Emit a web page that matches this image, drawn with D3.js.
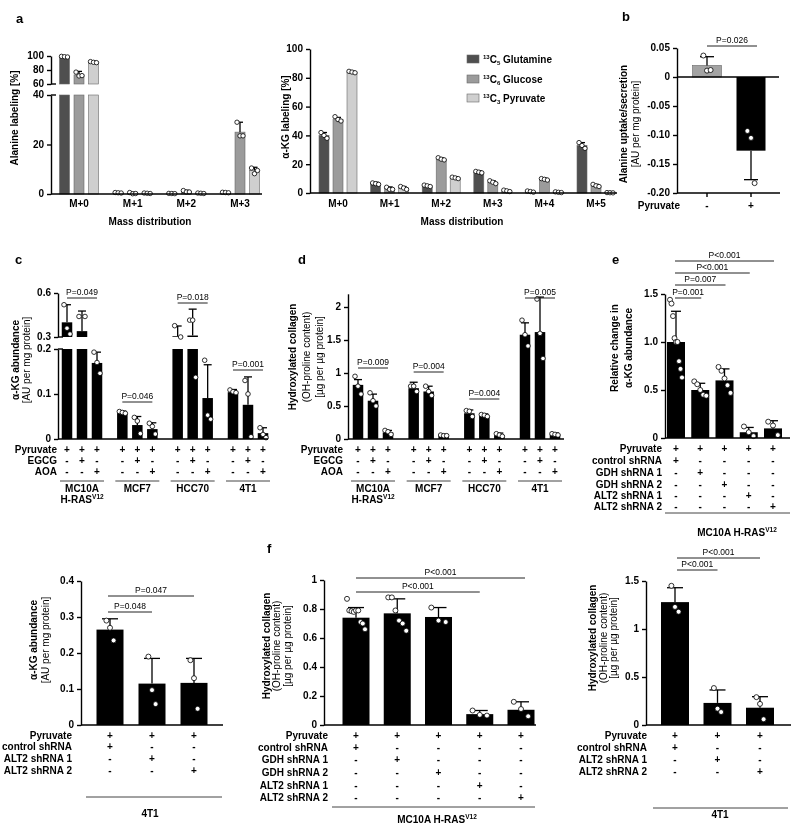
<!DOCTYPE html>
<html><head><meta charset="utf-8">
<script src="https://cdn.jsdelivr.net/npm/d3@7"></script>
<style>body{margin:0;background:#fff}svg{display:block;filter:grayscale(100%)}</style>
</head><body>
<svg id="chart" width="800" height="831"></svg>
<script>
// ================= DATA =================
// Panel a — alanine labeling (%)
const alaMass = ["M+0","M+1","M+2","M+3"];
const alaGln = [99, 0.5, 0.2, 0.6];
const alaGlc = [73, 0.3, 1.0, 25];
const alaPyr = [91, 0.3, 0.3, 9.5];
const alaGlnErr = [99.8, 0.7, 0.3, 0.8];
const alaGlcErr = [78, 0.7, 1.5, 29];
const alaPyrErr = [92.5, 0.5, 0.5, 10.8];
const alaGlnPts = [[99.5,99,98.6],[0.6,0.5,0.4],[0.25,0.2,0.15],[0.7,0.6,0.5]];
const alaGlcPts = [[77,71.5,72],[0.6,0.1,0.2],[1.4,0.8,0.8],[29,23.5,23.5]];
const alaPyrPts = [[92,91,90.5],[0.4,0.3,0.2],[0.4,0.3,0.2],[10.5,8.2,9.5]];
const alaTicksLow = [0,20,40];
const alaTicksHigh = [60,80,100];

// Panel a — alpha-KG labeling (%)
const kgMass = ["M+0","M+1","M+2","M+3","M+4","M+5"];
const kgGln = [40, 6.5, 5, 14.5, 1, 33];
const kgGlc = [51, 3, 23.5, 7.5, 9.5, 5];
const kgPyr = [84, 3.5, 10.5, 1.5, 0.5, 0.2];
const kgGlnErr = [42, 7.5, 5.8, 15.3, 1.4, 35];
const kgGlcErr = [52.5, 4.2, 24.3, 8.5, 10.3, 6];
const kgPyrErr = [84.6, 4.5, 11.3, 2, 0.8, 0.3];
const kgGlnPts = [[42,40,38],[7,6.5,6],[5.5,5,4.5],[15,14.5,14],[1.4,1,0.6],[35,33,31]];
const kgGlcPts = [[53,51,50],[4,2.5,2.5],[24.5,23.5,23],[8.5,7.5,6.5],[10,9.5,9],[6,5,4.5]];
const kgPyrPts = [[84.5,84,83.5],[4.5,3.5,2.5],[11,10.5,10],[2,1.5,1],[0.8,0.5,0.3],[0.3,0.2,0.1]];
const kgTicks = [0,20,40,60,80,100];
const tracerMassNo = ["13","13","13"];
const tracerCarbons = ["5","6","3"];
const tracerNames = ["Glutamine","Glucose","Pyruvate"];

// Panel b — alanine uptake/secretion
const bCats = ["-","+"];
const bMean = [0.02, -0.127];
const bErr = [0.035, -0.177];
const bPts = [[0.037,0.011,0.012],[-0.093,-0.105,-0.183]];
const bTicks = [0.05,0,-0.05,-0.10,-0.15,-0.20];
const bTickLabels = ["0.05","0","-0.05","-0.10","-0.15","-0.20"];
const bP = "P=0.026";

// Panel c — alpha-KG abundance
const cdGroups = ["MC10A","MCF7","HCC70","4T1"];
const cdGroupLines = [["MC10A","H-RAS^V12"],["MCF7"],["HCC70"],["4T1"]];
const cdRowNames = ["Pyruvate","EGCG","AOA"];
const cdRowSigns = [["+","+","+"],["-","+","-"],["-","-","+"]];
const cMean = [[0.40,0.34,0.169],[0.058,0.031,0.022],[0.305,0.31,0.091],[0.104,0.076,0.013]];
const cErr = [[0.52,0.477,0.193],[0.062,0.05,0.036],[0.375,0.49,0.165],[0.11,0.138,0.025]];
const cPts = [[[0.52,0.36,0.32],[0.44,0.44],[0.193,0.17,0.146]],
              [[0.061,0.059,0.057],[0.048,0.04,0.012],[0.035,0.028,0.011]],
              [[0.377,0.30],[0.415,0.415,0.137],[0.175,0.053,0.044]],
              [[0.109,0.105,0.103],[0.13,0.10,0.005],[0.025,0.01,0.003]]];
const cTicksLow = [0,0.1,0.2];
const cTicksHigh = [0.3,0.6];
const cP = ["P=0.049","P=0.046","P=0.018","P=0.001"];

// Panel d — hydroxylated collagen
const dMean = [[0.82,0.58,0.1],[0.77,0.72,0.05],[0.39,0.35,0.06],[1.58,1.62,0.07]];
const dErr = [[0.9,0.68,0.13],[0.86,0.8,0.07],[0.44,0.38,0.09],[1.76,2.15,0.09]];
const dPts = [[[0.95,0.8,0.68],[0.7,0.58,0.5],[0.13,0.11,0.07]],
              [[0.8,0.8,0.72],[0.8,0.72,0.66],[0.06,0.05,0.05]],
              [[0.43,0.42,0.34],[0.37,0.36,0.34],[0.08,0.06,0.04]],
              [[1.8,1.58,1.41],[2.12,1.6,1.22],[0.08,0.07,0.06]]];
const dTicks = [0,0.5,1,1.5,2];
const dTickLabels = ["0","0.5","1","1.5","2"];
const dP = ["P=0.009","P=0.004","P=0.004","P=0.005"];

// Panel e — relative alpha-KG (MC10A H-RAS V12)
const eRowNames = ["Pyruvate","control shRNA","GDH shRNA 1","GDH shRNA 2","ALT2 shRNA 1","ALT2 shRNA 2"];
const eRowSigns = [["+","+","+","+","+"],["+","-","-","-","-"],["-","+","-","-","-"],["-","-","+","-","-"],["-","-","-","+","-"],["-","-","-","-","+"]];
const eMean = [1.0, 0.5, 0.6, 0.06, 0.1];
const eErr = [1.32, 0.57, 0.72, 0.11, 0.18];
const ePts = [[1.44,1.4,1.27,1.04,1.0,1.0,0.8,0.72,0.63],[0.59,0.56,0.5,0.45,0.44],[0.74,0.7,0.62,0.55,0.47],[0.12,0.06,0.02],[0.17,0.13,0.03]];
const eTicks = [0,0.5,1.0,1.5];
const eTickLabels = ["0","0.5","1.0","1.5"];
const eP = ["P=0.001","P=0.007","P<0.001","P<0.001"];
const eGroup = "MC10A H-RAS^V12";

// Panel f — left (alpha-KG, 4T1)
const fLRowNames = ["Pyruvate","control shRNA","ALT2 shRNA 1","ALT2 shRNA 2"];
const fLRowSigns = [["+","+","+"],["+","-","-"],["-","+","-"],["-","-","+"]];
const fLMean = [0.265, 0.115, 0.117];
const fLErr = [0.295, 0.185, 0.185];
const fLPts = [[0.29,0.27,0.235],[0.19,0.097,0.058],[0.18,0.13,0.045]];
const fLTicks = [0,0.1,0.2,0.3,0.4];
const fLTickLabels = ["0","0.1","0.2","0.3","0.4"];
const fLP = ["P=0.048","P=0.047"];
// Panel f — middle (collagen, MC10A H-RAS V12)
const fMRowNames = eRowNames;
const fMRowSigns = eRowSigns;
const fMMean = [0.74, 0.77, 0.745, 0.075, 0.105];
const fMErr = [0.81, 0.87, 0.81, 0.1, 0.16];
const fMPts = [[0.87,0.79,0.785,0.78,0.79,0.79,0.71,0.7,0.66],[0.88,0.88,0.79,0.72,0.70,0.65],[0.81,0.72,0.71],[0.1,0.07,0.065],[0.16,0.11,0.06]];
const fMTicks = [0,0.2,0.4,0.6,0.8,1];
const fMTickLabels = ["0","0.2","0.4","0.6","0.8","1"];
const fMP = ["P<0.001","P<0.001"];
// Panel f — right (collagen, 4T1)
const fRMean = [1.28, 0.23, 0.18];
const fRErr = [1.43, 0.365, 0.295];
const fRPts = [[1.45,1.23,1.18],[0.385,0.17,0.135],[0.29,0.22,0.06]];
const fRTicks = [0,0.5,1,1.5];
const fRTickLabels = ["0","0.5","1","1.5"];
const fRP = ["P<0.001","P<0.001"];

// ================= DRAWING HELPERS =================
const FONT = '"Liberation Sans", Arial, Helvetica, sans-serif';
const svg = d3.select("#chart").attr("font-family", FONT);

function T(x, y, s, o = {}) {
  return svg.append("text").attr("x", x).attr("y", y)
    .attr("font-size", o.size || 10).attr("font-weight", o.weight || "bold")
    .attr("text-anchor", o.anchor || "middle").attr("fill", "#000").text(s);
}
function RT(x, y, s, o = {}) { // rich text with ^superscript
  const parts = s.split("^");
  const t = svg.append("text").attr("x", x).attr("y", y)
    .attr("font-size", o.size || 10).attr("font-weight", "bold")
    .attr("text-anchor", o.anchor || "middle").attr("fill", "#000");
  t.append("tspan").text(parts[0]);
  if (parts[1]) t.append("tspan").attr("font-size", 6.5).attr("dy", -4).text(parts[1]);
  return t;
}
function L(x1, y1, x2, y2, w = 1.4, c = "#000") {
  svg.append("line").attr("x1", x1).attr("y1", y1).attr("x2", x2).attr("y2", y2)
    .attr("stroke", c).attr("stroke-width", w);
}
function yAxis(x, scale, ticks, labels) {
  const ax = d3.axisLeft(scale).tickValues(ticks)
    .tickFormat((d, i) => labels ? labels[i] : String(d))
    .tickSize(4).tickSizeOuter(0).tickPadding(3);
  const g = svg.append("g").attr("transform", `translate(${x},0)`).call(ax)
    .attr("font-family", FONT).attr("font-size", 10).attr("font-weight", "bold");
  g.select(".domain").attr("stroke", "#000").attr("stroke-width", 1.4);
  g.selectAll(".tick line").attr("stroke", "#000").attr("stroke-width", 1.4);
  g.selectAll(".tick text").attr("fill", "#000").attr("dy", "0.28em");
  return g;
}
function yTitle(lines, xs, yc) {
  lines.forEach((ln, i) => {
    svg.append("text").attr("transform", `translate(${xs[i]},${yc}) rotate(-90)`)
      .attr("text-anchor", "middle").attr("font-size", ln.size || 10)
      .attr("font-weight", ln.bold ? "bold" : "normal").attr("fill", "#000").text(ln.t);
  });
}
function drawBar(xc, w, v, yLo, fill, brk) {
  const segs = [];
  if (brk && v > brk.loMax) { segs.push([yLo(0), yLo(brk.loMax)]); segs.push([brk.yHi(brk.hiMin), brk.yHi(v)]); }
  else segs.push([yLo(0), yLo(v)]);
  segs.forEach(([a, b]) => {
    svg.append("rect").attr("x", xc - w / 2).attr("width", w)
      .attr("y", Math.min(a, b)).attr("height", Math.abs(a - b))
      .attr("fill", fill).attr("stroke", fill === "#000" ? "none" : "#6a6a6a").attr("stroke-width", fill === "#000" ? 0 : 0.6);
  });
}
function drawErr(xc, cw, v, e, yf) {
  L(xc, yf(v), xc, yf(e), 1.3);
  L(xc - cw / 2, yf(e), xc + cw / 2, yf(e), 1.3);
}
function drawPts(xc, w, pts, yf, r) {
  const n = pts.length;
  const spread = n > 4 ? 0.75 : 0.6;
  pts.forEach((p, j) => {
    const off = n > 1 ? (j / (n - 1) - 0.5) * w * spread : 0;
    svg.append("circle").attr("cx", xc + off).attr("cy", yf(p)).attr("r", r)
      .attr("fill", "#fff").attr("stroke", "#000").attr("stroke-width", 0.8);
  });
}
function pLine(x1, x2, y, label) {
  L(x1, y, x2, y, 1, "#222");
  T((x1 + x2) / 2, y - 3, label, { size: 8.5, weight: "normal" });
}
function signRows(names, signs, xs, baselines, labelRight) {
  names.forEach((nm, r) => {
    T(labelRight, baselines[r], nm, { anchor: "end" });
    signs[r].forEach((s, i) => T(xs[i], baselines[r], s));
  });
}
function panelLabel(x, y, s) { T(x, y, s, { size: 13, anchor: "start" }); }

const tracerFill = ["#4f4f4f", "#9b9b9b", "#cfcfcf"];

// ================= PANEL a (left) =================
{
  const yLo = d3.scaleLinear().domain([0, 40]).range([194, 95]);
  const yHi = d3.scaleLinear().domain([60, 100]).range([84, 56]);
  const yf = v => v <= 40 ? yLo(v) : yHi(Math.max(v, 60));
  const x = d3.scalePoint().domain(alaMass).range([79, 240]);
  const means = [alaGln, alaGlc, alaPyr], errs = [alaGlnErr, alaGlcErr, alaPyrErr], pts = [alaGlnPts, alaGlcPts, alaPyrPts];
  means.forEach((m, s) => m.forEach((v, i) => {
    const xc = x(alaMass[i]) + (s - 1) * 14.5;
    drawBar(xc, 10, v, yLo, tracerFill[s], { loMax: 40, hiMin: 60, yHi });
    drawErr(xc, 6, v, errs[s][i], yf);
    drawPts(xc, 10, pts[s][i], yf, 2.2);
  }));
  yAxis(51, yLo, alaTicksLow);
  yAxis(51, yHi, alaTicksHigh);
  L(51, 95, 56, 95); L(51, 84, 56, 84);
  L(51, 194, 262, 194);
  alaMass.forEach(c => T(x(c), 207, c));
  T(150, 225, "Mass distribution");
  yTitle([{ t: "Alanine labeling [%]", bold: true }], [18], 118);
  panelLabel(16, 23, "a");
}

// ================= PANEL a (right) =================
{
  const y = d3.scaleLinear().domain([0, 100]).range([193, 49]);
  const x = d3.scalePoint().domain(kgMass).range([338, 596]);
  const means = [kgGln, kgGlc, kgPyr], errs = [kgGlnErr, kgGlcErr, kgPyrErr], pts = [kgGlnPts, kgGlcPts, kgPyrPts];
  means.forEach((m, s) => m.forEach((v, i) => {
    const xc = x(kgMass[i]) + (s - 1) * 14;
    drawBar(xc, 10, v, y, tracerFill[s]);
    drawErr(xc, 6, v, errs[s][i], y);
    drawPts(xc, 10, pts[s][i], y, 2.2);
  }));
  yAxis(310, y, kgTicks);
  L(310, 193, 617, 193);
  kgMass.forEach(c => T(x(c), 207, c));
  T(462, 225, "Mass distribution");
  yTitle([{ t: "α-KG labeling [%]", bold: true }], [289], 117);
  // legend
  const ly = [59, 79, 98];
  tracerNames.forEach((nm, i) => {
    svg.append("rect").attr("x", 467).attr("y", ly[i] - 4).attr("width", 12).attr("height", 8)
      .attr("fill", tracerFill[i]).attr("stroke", "#6a6a6a").attr("stroke-width", 0.6);
    const t = svg.append("text").attr("x", 483).attr("y", ly[i] + 4).attr("font-size", 10)
      .attr("font-weight", "bold").attr("fill", "#000");
    t.append("tspan").attr("font-size", 6).attr("dy", -4).text(tracerMassNo[i]);
    t.append("tspan").attr("dy", 4).text("C");
    t.append("tspan").attr("font-size", 6).attr("dy", 2).text(tracerCarbons[i]);
    t.append("tspan").attr("dy", -2).text(" " + nm);
  });
}

// ================= PANEL b =================
{
  const y = d3.scaleLinear().domain([-0.2, 0.05]).range([193, 48]);
  const x = d3.scalePoint().domain(bCats).range([707, 751]);
  const fills = ["#a3a3a3", "#000"];
  bCats.forEach((c, i) => {
    drawBar(x(c), 29, bMean[i], y, fills[i]);
    drawErr(x(c), 14, bMean[i], bErr[i], y);
    drawPts(x(c), 12, bPts[i], y, 2.5);
  });
  yAxis(677, y, bTicks, bTickLabels);
  L(677, y(0), 779, y(0));
  L(677, 193, 780, 193);
  bCats.forEach(c => L(x(c), 193, x(c), 197));
  pLine(707, 757, 46, bP);
  T(680, 209, "Pyruvate", { anchor: "end" });
  bCats.forEach(c => T(x(c), 209, c));
  yTitle([{ t: "Alanine uptake/secretion", bold: true }, { t: "[AU per mg protein]", bold: false }], [627, 639], 124);
  panelLabel(622, 21, "b");
}

// ================= PANEL c =================
{
  const yLo = d3.scaleLinear().domain([0, 0.2]).range([439, 349]);
  const yHi = d3.scaleLinear().domain([0.3, 0.6]).range([337, 293]);
  const yf = v => v <= 0.2 ? yLo(v) : yHi(Math.max(v, 0.3));
  const xg = d3.scalePoint().domain(cdGroups).range([82, 248]);
  const xs = [];
  cdGroups.forEach((g, gi) => {
    [0, 1, 2].forEach(k => {
      const xc = xg(g) + (k - 1) * 15;
      xs.push(xc);
      drawBar(xc, 10.5, cMean[gi][k], yLo, "#000", { loMax: 0.2, hiMin: 0.3, yHi });
      drawErr(xc, 8, cMean[gi][k], cErr[gi][k], yf);
      drawPts(xc, 10, cPts[gi][k], yf, 2.3);
    });
  });
  yAxis(58, yLo, cTicksLow, ["0", "0.1", "0.2"]);
  yAxis(58, yHi, cTicksHigh, ["0.3", "0.6"]);
  L(58, 349, 63, 349); L(58, 337, 63, 337);
  L(58, 439, 268, 439);
  const pY = [298, 402, 303, 370];
  cdGroups.forEach((g, gi) => pLine(xg(g) - 15, xg(g) + 15, pY[gi], cP[gi]));
  const rowSigns = cdRowSigns.map(r => cdGroups.flatMap(() => r));
  signRows(cdRowNames, rowSigns, xs, [453, 464, 475], 57);
  cdGroups.forEach((g, gi) => {
    L(xg(g) - 22, 481, xg(g) + 22, 481, 1, "#444");
    cdGroupLines[gi].forEach((ln, li) => RT(xg(g), 492 + li * 10.5, ln));
  });
  yTitle([{ t: "α-KG abundance", bold: true }, { t: "[AU per mg protein]", bold: false }], [19, 30], 360);
  panelLabel(15, 264, "c");
}

// ================= PANEL d =================
{
  const y = d3.scaleLinear().domain([0, 2.2]).range([439, 293.8]);
  const xg = d3.scalePoint().domain(cdGroups).range([373, 540]);
  const xs = [];
  cdGroups.forEach((g, gi) => {
    [0, 1, 2].forEach(k => {
      const xc = xg(g) + (k - 1) * 15;
      xs.push(xc);
      drawBar(xc, 10.5, dMean[gi][k], y, "#000");
      drawErr(xc, 8, dMean[gi][k], dErr[gi][k], y);
      drawPts(xc, 10, dPts[gi][k], y, 2.3);
    });
  });
  yAxis(348, y, dTicks, dTickLabels);
  L(348, 439, 564, 439);
  const pY = [368, 372, 399, 298];
  cdGroups.forEach((g, gi) => pLine(xg(g) - 15, xg(g) + 15, pY[gi], dP[gi]));
  const rowSigns = cdRowSigns.map(r => cdGroups.flatMap(() => r));
  signRows(cdRowNames, rowSigns, xs, [453, 464, 475], 343);
  cdGroups.forEach((g, gi) => {
    L(xg(g) - 22, 481, xg(g) + 22, 481, 1, "#444");
    cdGroupLines[gi].forEach((ln, li) => RT(xg(g), 492 + li * 10.5, ln));
  });
  yTitle([{ t: "Hydroxylated collagen", bold: true }, { t: "(OH-proline content)", bold: false }, { t: "[µg per µg protein]", bold: false }], [296, 310, 323], 357);
  panelLabel(298, 264, "d");
}

// ================= PANEL e =================
{
  const y = d3.scaleLinear().domain([0, 1.5]).range([438, 294]);
  const idx = eMean.map((_, i) => i);
  const x = d3.scalePoint().domain(idx).range([676, 773]);
  idx.forEach(i => {
    drawBar(x(i), 18, eMean[i], y, "#000");
    drawErr(x(i), 10, eMean[i], eErr[i], y);
    drawPts(x(i), 16, ePts[i], y, 2.5);
  });
  yAxis(665, y, eTicks, eTickLabels);
  L(665, 438, 790, 438);
  const pY = [298, 285, 273, 261];
  eP.forEach((p, k) => pLine(x(0) - 1, x(k + 1) + 1, pY[k], p));
  signRows(eRowNames, eRowSigns, idx.map(i => x(i)), [452, 464, 476, 488, 499, 510], 662);
  L(665, 513, 790, 513, 1, "#444");
  RT(737, 536, eGroup);
  yTitle([{ t: "Relative change in", bold: true }, { t: "α-KG abundance", bold: true }], [618, 632], 348);
  panelLabel(612, 264, "e");
}

// ================= PANEL f =================
panelLabel(267, 553, "f");
{ // left
  const y = d3.scaleLinear().domain([0, 0.4]).range([725, 581]);
  const idx = fLMean.map((_, i) => i);
  const x = d3.scalePoint().domain(idx).range([110, 194]);
  idx.forEach(i => {
    drawBar(x(i), 27, fLMean[i], y, "#000");
    drawErr(x(i), 16, fLMean[i], fLErr[i], y);
    drawPts(x(i), 12, fLPts[i], y, 2.5);
  });
  yAxis(81, y, fLTicks, fLTickLabels);
  L(81, 725, 223, 725);
  pLine(x(0) - 2, x(1), 612, fLP[0]);
  pLine(x(0) - 2, x(2), 596, fLP[1]);
  signRows(fLRowNames, fLRowSigns, idx.map(i => x(i)), [739, 750, 762, 774], 72);
  L(86, 797, 222, 797, 1, "#444");
  T(150, 817, "4T1");
  yTitle([{ t: "α-KG abundance", bold: true }, { t: "[AU per mg protein]", bold: false }], [37, 49], 640);
}
{ // middle
  const y = d3.scaleLinear().domain([0, 1]).range([725, 580]);
  const idx = fMMean.map((_, i) => i);
  const x = d3.scalePoint().domain(idx).range([356, 521]);
  idx.forEach(i => {
    drawBar(x(i), 27, fMMean[i], y, "#000");
    drawErr(x(i), 16, fMMean[i], fMErr[i], y);
    drawPts(x(i), 24, fMPts[i], y, 2.5);
  });
  yAxis(324, y, fMTicks, fMTickLabels);
  L(324, 725, 536, 725);
  pLine(x(0), x(4) + 4, 578, fMP[0]);
  pLine(x(0), x(3), 592, fMP[1]);
  signRows(fMRowNames, fMRowSigns, idx.map(i => x(i)), [739, 751, 763, 776, 789, 801], 328);
  L(332, 807, 535, 807, 1, "#444");
  RT(437, 823, eGroup);
  yTitle([{ t: "Hydroxylated collagen", bold: true }, { t: "(OH-proline content)", bold: false }, { t: "[µg per µg protein]", bold: false }], [270, 280, 291], 646);
}
{ // right
  const y = d3.scaleLinear().domain([0, 1.5]).range([725, 581]);
  const idx = fRMean.map((_, i) => i);
  const x = d3.scalePoint().domain(idx).range([675, 760]);
  idx.forEach(i => {
    drawBar(x(i), 28, fRMean[i], y, "#000");
    drawErr(x(i), 16, fRMean[i], fRErr[i], y);
    drawPts(x(i), 12, fRPts[i], y, 2.5);
  });
  yAxis(646, y, fRTicks, fRTickLabels);
  L(646, 725, 791, 725);
  pLine(x(0) + 2, x(2), 558, fRP[0]);
  pLine(x(0) + 2, x(1), 570, fRP[1]);
  signRows(fLRowNames, fLRowSigns, idx.map(i => x(i)), [739, 751, 763, 775], 647);
  L(653, 808, 788, 808, 1, "#444");
  T(720, 818, "4T1");
  yTitle([{ t: "Hydroxylated collagen", bold: true }, { t: "(OH-proline content)", bold: false }, { t: "[µg per µg protein]", bold: false }], [596, 607, 617], 638);
}
</script>
</body></html>
